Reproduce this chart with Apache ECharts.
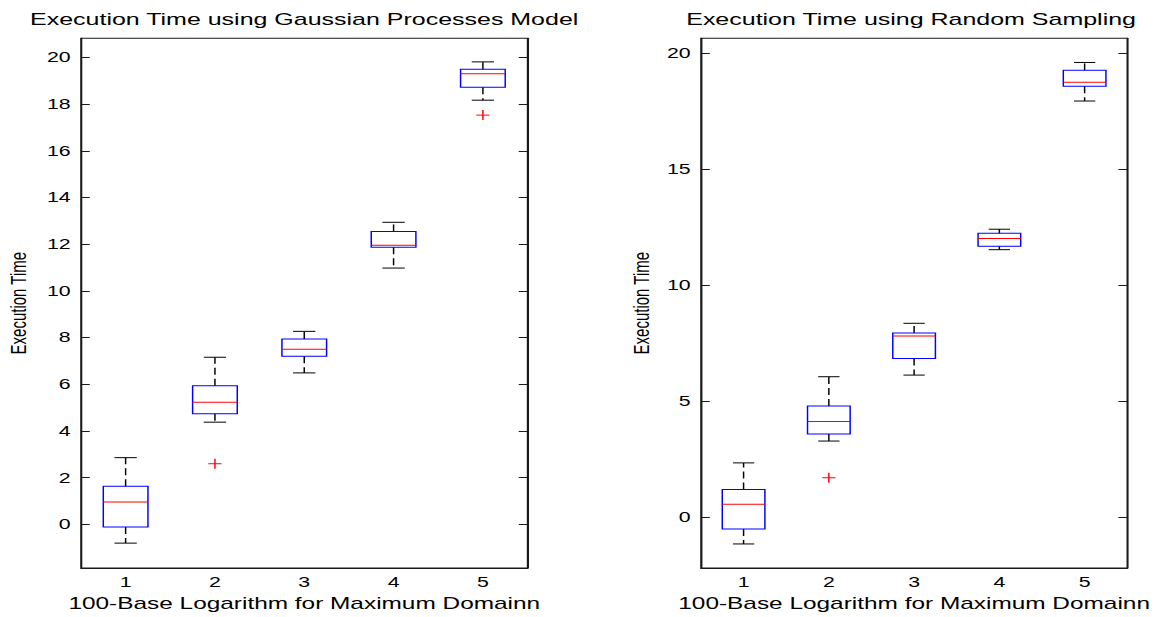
<!DOCTYPE html>
<html>
<head>
<meta charset="utf-8">
<script src="https://cdn.jsdelivr.net/npm/echarts@6/dist/echarts.min.js"></script>
<style>
  html, body { margin: 0; padding: 0; background: #fff; overflow: hidden; }
  /* the reference figure is stretched sideways, so the chart is drawn narrow and widened */
  #main { width: 786px; height: 617px; transform: scaleX(1.4695); transform-origin: 0 0; }
</style>
</head>
<body>
<div id="main"></div>
<script>
var categories = ['1', '2', '3', '4', '5'];

// Gaussian Processes Model
var gpLow    = [-0.80, 4.38, 6.49, 10.98, 18.17];
var gpQ1     = [-0.11, 4.74, 7.20, 11.87, 18.72];
var gpMedian = [0.96, 5.23, 7.50, 11.96, 19.30];
var gpQ3     = [1.64, 5.94, 7.94, 12.55, 19.49];
var gpHigh   = [2.86, 7.16, 8.27, 12.94, 19.81];
var gpOutliers = [[1, 2.60], [4, 17.53]];

// Random Sampling
var rsLow    = [-1.14, 3.29, 6.13, 11.53, 17.93];
var rsQ1     = [-0.50, 3.59, 6.84, 11.68, 18.57];
var rsMedian = [0.57, 4.13, 7.81, 12.01, 18.74];
var rsQ3     = [1.20, 4.80, 7.94, 12.24, 19.25];
var rsHigh   = [2.35, 6.06, 8.36, 12.41, 19.59];
var rsOutliers = [[1, 1.71]];

var gpTicks = [0, 2, 4, 6, 8, 10, 12, 14, 16, 18, 20];
var rsTicks = [0, 5, 10, 15, 20];

var font = 'Liberation Sans';
var ink = '#1a1a1a';

function rows(low, q1, med, q3, high) {
  return categories.map(function (c, i) {
    return [i, low[i], q1[i], med[i], q3[i], high[i]];
  });
}

function boxRender(params, api) {
  var i = api.value(0);
  var low = api.coord([i, api.value(1)]);
  var q1 = api.coord([i, api.value(2)]);
  var med = api.coord([i, api.value(3)]);
  var q3 = api.coord([i, api.value(4)]);
  var high = api.coord([i, api.value(5)]);
  var band = api.size([1, 0])[0];
  var hw = band * 0.25, cw = band * 0.125;
  var x = med[0];
  var dash = { stroke: '#000', lineWidth: 1, lineDash: [7, 4] };
  var solid = { stroke: '#000', lineWidth: 1 };
  return {
    type: 'group',
    children: [
      { type: 'line', shape: { x1: x, y1: q3[1], x2: x, y2: high[1] }, style: dash },
      { type: 'line', shape: { x1: x, y1: q1[1], x2: x, y2: low[1] }, style: dash },
      { type: 'line', shape: { x1: x - cw, y1: high[1], x2: x + cw, y2: high[1] }, style: solid },
      { type: 'line', shape: { x1: x - cw, y1: low[1], x2: x + cw, y2: low[1] }, style: solid },
      { type: 'rect', shape: { x: x - hw, y: q3[1], width: hw * 2, height: q1[1] - q3[1] },
        style: { fill: 'none', stroke: '#0000ff', lineWidth: 1 } },
      { type: 'line', shape: { x1: x - hw, y1: med[1], x2: x + hw, y2: med[1] },
        style: { stroke: '#ff0000', lineWidth: 1 } }
    ]
  };
}

function plusRender(params, api) {
  var p = api.coord([api.value(0), api.value(1)]);
  var st = { stroke: '#ff0000', lineWidth: 1 };
  return {
    type: 'group',
    children: [
      { type: 'line', shape: { x1: p[0] - 4.5, y1: p[1], x2: p[0] + 4.5, y2: p[1] }, style: st },
      { type: 'line', shape: { x1: p[0], y1: p[1] - 5, x2: p[0], y2: p[1] + 5 }, style: st }
    ]
  };
}

function xAxisFor(gridIndex) {
  return {
    type: 'category', gridIndex: gridIndex, data: categories, boundaryGap: true,
    name: '100-Base Logarithm for Maximum Domainn',
    nameLocation: 'middle', nameGap: 23,
    nameTextStyle: { fontFamily: font, fontSize: 16.6, color: '#000' },
    axisLine: { onZero: false, lineStyle: { color: ink, width: 1 } },
    axisTick: { show: false },
    axisLabel: { margin: 7, fontFamily: font, fontSize: 14.5, color: '#000' },
    splitLine: { show: false }
  };
}

function yAxesFor(gridIndex, min, max, ticks, gap) {
  var left = {
    type: 'value', gridIndex: gridIndex, min: min, max: max, position: 'left',
    name: 'Execution Time', nameLocation: 'middle', nameGap: gap,
    nameTextStyle: { fontFamily: font, fontSize: 15, color: '#000' },
    axisLine: { show: true, onZero: false, lineStyle: { color: ink, width: 1 } },
    axisTick: { show: true, inside: true, length: 6, customValues: ticks, lineStyle: { color: ink } },
    axisLabel: { margin: 7, fontFamily: font, fontSize: 14.5, color: '#000', customValues: ticks },
    splitLine: { show: false }
  };
  var right = {
    type: 'value', gridIndex: gridIndex, min: min, max: max, position: 'right',
    axisLine: { show: true, onZero: false, lineStyle: { color: ink, width: 1 } },
    axisTick: { show: true, inside: true, length: 6, customValues: ticks, lineStyle: { color: ink } },
    axisLabel: { show: false },
    splitLine: { show: false }
  };
  return [left, right];
}

var gpY = yAxesFor(0, -1.87, 20.82, gpTicks, 35);
var rsY = yAxesFor(1, -2.18, 20.63, rsTicks, 33);

var chart = echarts.init(document.getElementById('main'), null, { renderer: 'svg' });
chart.setOption({
  backgroundColor: '#fff',
  animation: false,
  title: [
    { text: 'Execution Time using Gaussian Processes Model', left: 202, top: 6, textAlign: 'center',
      textStyle: { fontFamily: font, fontSize: 17, fontWeight: 'normal', color: '#000' } },
    { text: 'Execution Time using Random Sampling', left: 615, top: 6, textAlign: 'center',
      textStyle: { fontFamily: font, fontSize: 17, fontWeight: 'normal', color: '#000' } }
  ],
  grid: [
    { left: 55.1, right: 427, top: 38.3, bottom: 44.7, show: true, borderColor: ink, borderWidth: 1 },
    { left: 477, right: 18.9, top: 38.3, bottom: 45.3, show: true, borderColor: ink, borderWidth: 1 }
  ],
  xAxis: [xAxisFor(0), xAxisFor(1)],
  yAxis: [gpY[0], gpY[1], rsY[0], rsY[1]],
  series: [
    { type: 'custom', xAxisIndex: 0, yAxisIndex: 0, renderItem: boxRender,
      encode: { x: 0, y: [1, 2, 3, 4, 5] }, data: rows(gpLow, gpQ1, gpMedian, gpQ3, gpHigh) },
    { type: 'custom', xAxisIndex: 0, yAxisIndex: 0, renderItem: plusRender,
      encode: { x: 0, y: 1 }, data: gpOutliers },
    { type: 'custom', xAxisIndex: 1, yAxisIndex: 2, renderItem: boxRender,
      encode: { x: 0, y: [1, 2, 3, 4, 5] }, data: rows(rsLow, rsQ1, rsMedian, rsQ3, rsHigh) },
    { type: 'custom', xAxisIndex: 1, yAxisIndex: 2, renderItem: plusRender,
      encode: { x: 0, y: 1 }, data: rsOutliers }
  ]
});
</script>
</body>
</html>
